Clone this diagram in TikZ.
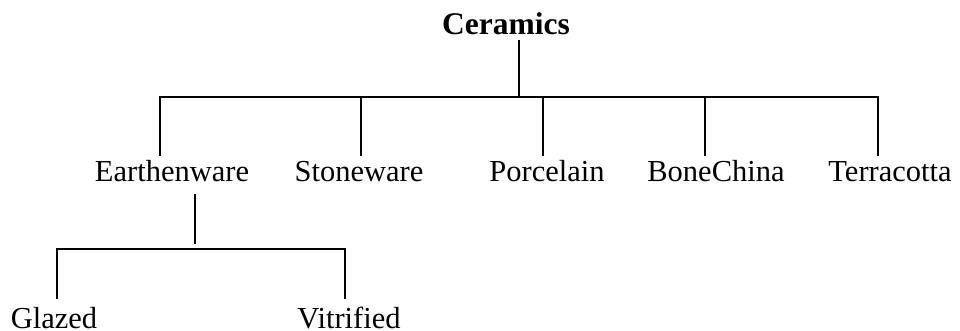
\documentclass[tikz,border=0pt]{standalone}
\usepackage{fontspec}
\setmainfont{Liberation Serif}
\begin{document}
\begin{tikzpicture}[x=1pt,y=-1pt,
  lab/.style={font=\fontsize{30.5}{36}\selectfont, inner sep=0pt, outer sep=0pt, anchor=base, text height=27pt, text depth=13pt},
  sublab/.style={font=\fontsize{30.5}{36}\selectfont, inner sep=0pt, outer sep=0pt, anchor=base, text height=30pt, text depth=0pt},
  ttl/.style={font=\fontsize{31.5}{36}\bfseries\selectfont, inner sep=0pt, outer sep=0pt, anchor=base, text height=22pt, text depth=6pt},
  ln/.style={line width=1.5pt, line cap=rect}]
\useasboundingbox (0,0) rectangle (960,331);
% nodes
\node[ttl] (cer) at (506,35) {Ceramics};
\node[lab] (ear) at (172,182) {Earthenware};
\node[lab] (sto) at (359,182) {Stoneware};
\node[lab] (por) at (547,182) {Porcelain};
\node[lab] (bon) at (716,182) {BoneChina};
\node[lab] (ter) at (890,182) {Terracotta};
\node[sublab] (gla) at (54,328) {Glazed};
\node[sublab] (vit) at (349,328) {Vitrified};
% bus coordinates
\coordinate (top) at (519,97);
\coordinate (b1) at (160,97);
\coordinate (b2) at (361,97);
\coordinate (b3) at (543,97);
\coordinate (b4) at (705,97);
\coordinate (b5) at (878,97);
\coordinate (e1) at (195,243);
\coordinate (l1) at (57,249);
\coordinate (l2) at (345,249);
% connectors
\draw[ln] (cer.south -| top) -- (top);
\draw[ln] (b1) -- (b5);
\draw[ln] (b1) -- (b1 |- ear.north);
\draw[ln] (b2) -- (b2 |- sto.north);
\draw[ln] (b3) -- (b3 |- por.north);
\draw[ln] (b4) -- (b4 |- bon.north);
\draw[ln] (b5) -- (b5 |- ter.north);
\draw[ln] (ear.south -| e1) -- (e1);
\draw[ln] (l1) -- (l2);
\draw[ln] (l1) -- (l1 |- gla.north);
\draw[ln] (l2) -- (l2 |- vit.north);
\end{tikzpicture}
\end{document}
